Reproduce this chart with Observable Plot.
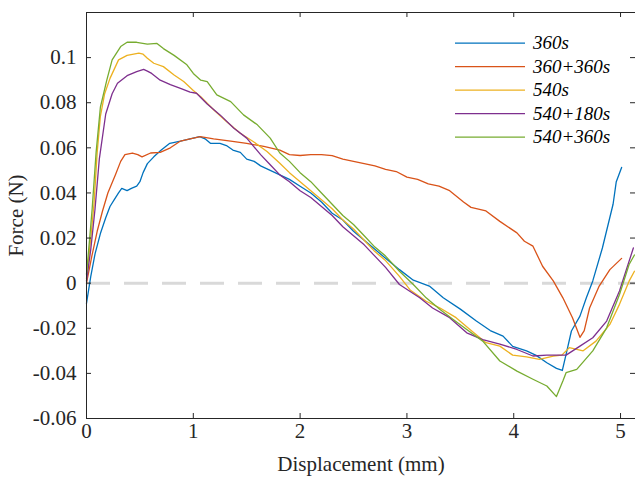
<!DOCTYPE html>
<html><head><meta charset="utf-8">
<script src="https://cdn.jsdelivr.net/npm/d3@7"></script>
<script src="https://cdn.jsdelivr.net/npm/@observablehq/plot@0.6"></script>
<style>
body{margin:0;background:#fff;}
#wrap{position:relative;width:635px;height:478px;overflow:hidden;background:#fff;}
#wrap svg{position:absolute;left:0;top:0;}
</style></head><body><div id="wrap"></div>
<script>
const seriesNames = ["360s", "360+360s", "540s", "540+180s", "540+360s"];
const seriesColors = ["#0072BD", "#D95319", "#EDB120", "#7E2F8E", "#77AC30"];
const xTicks = [0, 1, 2, 3, 4, 5];
const yTicks = [-0.06, -0.04, -0.02, 0, 0.02, 0.04, 0.06, 0.08, 0.1];
const xLabel = "Displacement (mm)";
const yLabel = "Force (N)";

const s360 = [[0,-0.009],[0.04,0.003],[0.08,0.013],[0.13,0.022],[0.18,0.029],[0.22,0.034],[0.26,0.037],[0.30,0.040],[0.33,0.042],[0.38,0.041],[0.42,0.042],[0.47,0.043],[0.50,0.045],[0.53,0.049],[0.57,0.053],[0.63,0.056],[0.70,0.059],[0.78,0.062],[0.88,0.063],[0.97,0.064],[1.06,0.065],[1.11,0.064],[1.16,0.062],[1.25,0.062],[1.31,0.061],[1.37,0.059],[1.44,0.058],[1.50,0.055],[1.57,0.054],[1.63,0.052],[1.72,0.050],[1.81,0.048],[1.9,0.046],[2.0,0.043],[2.1,0.040],[2.2,0.036],[2.3,0.031],[2.4,0.028],[2.5,0.023],[2.6,0.019],[2.7,0.015],[2.8,0.011],[2.93,0.006],[3.06,0.0013],[3.21,-0.0013],[3.34,-0.0065],[3.50,-0.0115],[3.65,-0.0168],[3.78,-0.021],[3.90,-0.0235],[3.99,-0.028],[4.12,-0.030],[4.21,-0.032],[4.31,-0.0353],[4.40,-0.0378],[4.455,-0.0387],[4.49,-0.0316],[4.54,-0.0212],[4.62,-0.0146],[4.68,-0.0065],[4.74,0.001],[4.83,0.0156],[4.93,0.035],[4.96,0.045],[5.01,0.0513]];
const s360_360 = [[0,0.0],[0.05,0.012],[0.10,0.023],[0.15,0.032],[0.20,0.040],[0.27,0.048],[0.32,0.054],[0.36,0.057],[0.43,0.0577],[0.48,0.057],[0.52,0.056],[0.6,0.0577],[0.69,0.058],[0.785,0.060],[0.88,0.063],[0.97,0.064],[1.065,0.065],[1.19,0.064],[1.35,0.063],[1.50,0.062],[1.66,0.0606],[1.81,0.059],[1.9,0.057],[2.0,0.0566],[2.1,0.057],[2.2,0.057],[2.3,0.0565],[2.4,0.055],[2.5,0.054],[2.6,0.053],[2.7,0.052],[2.8,0.0505],[2.9,0.0495],[3.0,0.047],[3.1,0.046],[3.2,0.044],[3.3,0.043],[3.4,0.041],[3.53,0.036],[3.60,0.0336],[3.74,0.032],[3.87,0.0274],[4.03,0.0223],[4.10,0.0186],[4.18,0.0164],[4.27,0.0075],[4.37,0.001],[4.46,-0.0065],[4.55,-0.0153],[4.62,-0.024],[4.66,-0.021],[4.71,-0.011],[4.80,-0.0013],[4.90,0.006],[5.01,0.011]];
const s540 = [[0,0.002],[0.04,0.02],[0.07,0.035],[0.10,0.058],[0.13,0.074],[0.17,0.084],[0.22,0.0908],[0.30,0.099],[0.38,0.101],[0.49,0.102],[0.53,0.1015],[0.57,0.0997],[0.63,0.0975],[0.72,0.096],[0.82,0.0923],[0.91,0.0894],[1.00,0.0854],[1.07,0.0827],[1.19,0.0769],[1.31,0.0717],[1.44,0.0665],[1.56,0.0628],[1.69,0.0584],[1.81,0.0532],[1.9,0.049],[2.0,0.045],[2.1,0.041],[2.2,0.037],[2.3,0.033],[2.4,0.028],[2.5,0.024],[2.6,0.019],[2.7,0.014],[2.8,0.010],[2.93,0.003],[3.03,-0.003],[3.18,-0.008],[3.31,-0.011],[3.46,-0.0153],[3.59,-0.0205],[3.74,-0.0264],[3.87,-0.0279],[3.99,-0.0319],[4.12,-0.0327],[4.24,-0.0338],[4.37,-0.0323],[4.45,-0.0319],[4.52,-0.0286],[4.65,-0.030],[4.77,-0.0257],[4.90,-0.0183],[4.99,-0.0094],[5.08,0.0009],[5.13,0.0053]];
const s540_180 = [[0,0.001],[0.04,0.015],[0.08,0.033],[0.12,0.055],[0.18,0.075],[0.24,0.084],[0.29,0.0886],[0.38,0.092],[0.47,0.0938],[0.535,0.0948],[0.57,0.094],[0.61,0.093],[0.69,0.090],[0.785,0.088],[0.88,0.0864],[0.97,0.0847],[1.03,0.0842],[1.13,0.0794],[1.25,0.0746],[1.38,0.0687],[1.50,0.0643],[1.63,0.057],[1.72,0.0525],[1.81,0.048],[1.9,0.045],[2.0,0.041],[2.1,0.038],[2.2,0.034],[2.3,0.030],[2.4,0.025],[2.5,0.021],[2.6,0.017],[2.7,0.012],[2.8,0.007],[2.93,-0.0006],[3.12,-0.0065],[3.24,-0.011],[3.40,-0.0153],[3.56,-0.022],[3.71,-0.025],[3.87,-0.027],[4.03,-0.0294],[4.18,-0.0323],[4.31,-0.0319],[4.41,-0.0319],[4.49,-0.0319],[4.62,-0.0279],[4.74,-0.0242],[4.87,-0.0168],[4.99,-0.0035],[5.12,0.0156]];
const s540_360 = [[0,0.004],[0.03,0.02],[0.053,0.033],[0.09,0.058],[0.13,0.078],[0.19,0.09],[0.24,0.099],[0.32,0.1049],[0.38,0.1068],[0.47,0.1068],[0.57,0.106],[0.66,0.1063],[0.72,0.104],[0.82,0.101],[0.94,0.0968],[1.0,0.093],[1.07,0.090],[1.13,0.0894],[1.22,0.0835],[1.35,0.0805],[1.47,0.0746],[1.60,0.0702],[1.72,0.0643],[1.81,0.0577],[1.9,0.054],[2.0,0.049],[2.1,0.045],[2.2,0.040],[2.3,0.035],[2.4,0.030],[2.5,0.026],[2.6,0.021],[2.7,0.016],[2.8,0.012],[2.93,0.0053],[3.06,-0.0006],[3.18,-0.0065],[3.31,-0.0117],[3.43,-0.016],[3.56,-0.0205],[3.71,-0.0257],[3.87,-0.0345],[4.03,-0.039],[4.18,-0.0426],[4.31,-0.0456],[4.40,-0.0503],[4.46,-0.0434],[4.49,-0.0397],[4.59,-0.0382],[4.74,-0.030],[4.87,-0.0198],[4.99,-0.005],[5.08,0.0083],[5.13,0.0125]];

const seriesData = [s360, s360_360, s540, s540_180, s540_360];
const data = seriesData.flatMap((arr, i) => arr.map(([x, y]) => ({series: seriesNames[i], x, y})));

const W = 635, H = 478, mL = 86, mR = 0, mT = 12, mB = 60;
const pw = W - mL - mR, ph = H - mT - mB;
const axisColor = "#262626";
const font = "'Liberation Serif', 'Times New Roman', serif";

const chart = Plot.plot({
  width: W, height: H,
  marginLeft: mL, marginRight: mR, marginTop: mT, marginBottom: mB,
  style: {fontFamily: font, fontSize: "21px", color: axisColor, background: "#fff", overflow: "visible"},
  x: {domain: [0, 5.14]},
  y: {domain: [-0.06, 0.12]},
  color: {domain: seriesNames, range: seriesColors},
  marks: [
    Plot.ruleY([0], {stroke: "#d9d9d9", strokeWidth: 3, strokeDasharray: "24,14"}),
    Plot.line(data, {x: "x", y: "y", z: "series", stroke: "series", strokeWidth: 1.3}),
    Plot.frame({stroke: axisColor, strokeWidth: 1}),
    Plot.tickY(yTicks, {y: d => d, stroke: axisColor, insetRight: pw - 5}),
    Plot.tickY(yTicks, {y: d => d, stroke: axisColor, insetLeft: pw - 5}),
    Plot.tickX(xTicks, {x: d => d, stroke: axisColor, insetTop: ph - 5}),
    Plot.tickX(xTicks, {x: d => d, stroke: axisColor, insetBottom: ph - 5}),
    Plot.axisX({ticks: xTicks, tickSize: 0, tickPadding: 5, tickFormat: d => String(d),
      label: xLabel, labelAnchor: "center", labelOffset: 52, labelArrow: "none"}),
    Plot.axisY({ticks: yTicks, tickSize: 0, tickPadding: 10, tickFormat: d => String(+d.toFixed(2)),
      label: yLabel, labelAnchor: "center", labelOffset: 78, labelArrow: "none"})
  ]
});
const wrap = document.getElementById("wrap");
wrap.appendChild(chart);

// legend overlay
const leg = d3.select(wrap).append("svg").attr("width", W).attr("height", H)
  .style("pointer-events", "none");
const g = leg.selectAll("g").data(seriesNames).join("g")
  .attr("transform", (d, i) => `translate(0,${42.7 + i * 23.5})`);
g.append("line").attr("x1", 455).attr("x2", 525).attr("y1", 0.5).attr("y2", 0.5)
  .attr("stroke", (d, i) => seriesColors[i]).attr("stroke-width", 1.3);
g.append("text").attr("x", 533).attr("y", 0).attr("dy", "0.35em")
  .attr("font-family", font).attr("font-style", "italic").attr("font-size", 19)
  .attr("fill", "#000").text(d => d);
</script></body></html>
